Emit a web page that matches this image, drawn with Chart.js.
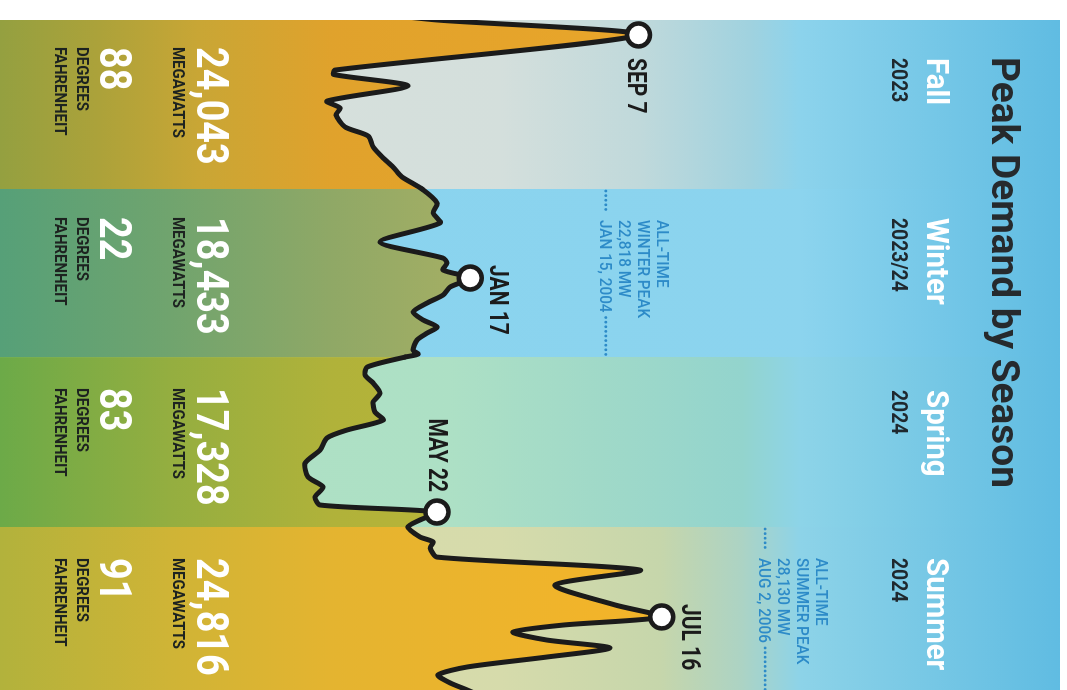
<!DOCTYPE html>
<html>
<head>
<meta charset="utf-8">
<title>Peak Demand by Season</title>
<script src="https://cdn.jsdelivr.net/npm/chart.js@4.4.0/dist/chart.umd.min.js"></script>
<style>
  html, body { margin: 0; padding: 0; background: #fff; overflow: hidden; }
  body { width: 1067px; height: 690px; position: relative; }
  /* the poster is laid out upright and turned a quarter turn clockwise */
  #poster { position: absolute; left: 0; top: 0; width: 670px; height: 1060px;
    transform-origin: 0 0; transform: translate(1060px, 20px) rotate(90deg); }
  #poster canvas { display: block; }
</style>
</head>
<body>
<div id="poster"><canvas id="chart" width="670" height="1060"></canvas></div>
<script>
// days counted from Sep 1, 2023
const days = [-3.7, -0.5, 7.6, 26.6, 29, 35.2, 43.4, 47.2, 50.9, 57.4, 62.3, 68.3, 73.7, 79.1, 84.5, 91,
  98.6, 104, 109.4, 119.7, 128.4, 131.1, 134.9, 139.2, 144.1, 148.4, 152.7, 157.6, 161.9, 165.7, 169,
  172.8, 178.2, 180.4, 182, 187.4, 191.7, 196.1, 201.5, 206.3, 211.8, 216.1, 221.5, 225.8, 232.3, 239.4,
  246.9, 252.4, 257.8, 262.1, 265.9, 270.2, 274, 279.4, 282.1, 285.4, 290.3, 297.3, 305.4, 316.2, 322.7,
  327.1, 330.9, 335.2, 339.5, 344.4, 349.8, 354.1, 358.4, 362.2, 367.7];
const demandMW = [15430, 17330, 24043, 13930, 13880, 16360, 13660, 14100, 13960, 14260, 15030, 15200, 15500, 15860, 16160, 16830,
  17330, 17200, 17430, 15430, 17530, 17660, 17530, 18433, 17760, 17530, 17000, 16530, 16860, 17330, 17000,
  16660, 16530, 16700, 16260, 15000, 14930, 15200, 15430, 15200, 15260, 15530, 14330, 13660, 13430, 12930,
  13030, 13530, 13260, 13430, 17328, 16760, 16360, 16760, 17200, 17100, 17330, 24090, 21260, 23260, 24816,
  21530, 19860, 20990, 23090, 20990, 18330, 17360, 17760, 18330, 19100];

const seasons = ['Fall', 'Winter', 'Spring', 'Summer'];
const seasonYears = ['2023', '2023/24', '2024', '2024'];
const seasonStartDay = [0, 91, 182, 274, 366];
const peakDays = [7.6, 139.2, 265.9, 322.7];
const peakMW = [24043, 18433, 17328, 24816];
const peakDates = ['SEP 7', 'JAN 17', 'MAY 22', 'JUL 16'];
const peakTempF = [88, 22, 83, 91];

const recordSeason = [1, 3];
const recordNames = ['WINTER PEAK', 'SUMMER PEAK'];
const recordMW = [22818, 28130];
const recordDates = ['JAN 15, 2004', 'AUG 2, 2006'];

// colours, top of poster (0) to bottom (1)
const lightStops = [
  [[0, '#60bce2'], [0.245, '#8cd3ec'], [0.292, '#a0d2df'], [0.396, '#c0d9db'], [0.528, '#d4dfdc'], [1, '#d9e1dc']],
  [[0, '#60bce2'], [0.245, '#8cd4ee'], [1, '#88d3ef']],
  [[0, '#60bce2'], [0.245, '#8dd4e8'], [0.3, '#93d4cd'], [0.434, '#a0d9c8'], [0.575, '#ade0c5'], [1, '#b0e1c4']],
  [[0, '#60bce2'], [0.245, '#8dd3e8'], [0.3, '#acd3c4'], [0.377, '#c6d6ab'], [0.528, '#d6dbab'], [1, '#d9dcab']]
];
const strongStops = [
  [[0.434, '#e8a52a'], [0.686, '#e0a22c'], [0.811, '#c9a635'], [0.906, '#aca23a'], [1, '#94a040']],
  [[0.575, '#a2ae64'], [0.689, '#8fa866'], [0.84, '#70a46e'], [1, '#56a078']],
  [[0.575, '#b8b438'], [0.689, '#b0b23a'], [0.84, '#94ae40'], [1, '#6caa48']],
  [[0.434, '#f2b42a'], [0.689, '#e4b430'], [0.84, '#cfb436'], [1, '#b2b23c']]
];

const headerU = [38, 198, 370, 538];
const statU = [27, 197, 368, 538];
const labelPlace = ['after', 'above', 'before', 'above'];

function seasonOf(day) {
  let s = 0;
  for (let i = 1; i < 4; i++) if (day >= seasonStartDay[i]) s = i;
  return s;
}

function vGrad(ctx, area, stops) {
  const g = ctx.createLinearGradient(0, area.top, 0, area.bottom);
  stops.forEach(([p, c]) => g.addColorStop(p, c));
  return g;
}

// one gradient object per season, so the fill only splits at season edges
let strongGrads = null;
function strongFill(chart, s) {
  const area = chart.chartArea;
  if (!area) return 'rgba(0,0,0,0)';
  if (!strongGrads) strongGrads = strongStops.map(st => vGrad(chart.ctx, area, st));
  return strongGrads[s];
}

function drawText(ctx, s, u, v, o) {
  ctx.save();
  ctx.font = (o.weight || 'bold') + ' ' + o.size + 'px Roboto, "Noto Sans", sans-serif';
  ctx.fillStyle = o.color;
  ctx.textBaseline = 'alphabetic';
  ctx.textAlign = 'left';
  const w = ctx.measureText(s).width;
  const sx = o.width ? o.width / w : (o.sx || 1);
  const x = o.align === 'right' ? u - w * sx : u;
  ctx.translate(x, v);
  ctx.scale(sx, 1);
  ctx.fillText(s, 0, 0);
  ctx.restore();
  return w * sx;
}

const styles = {
  title: { size: 39, color: '#262a2d', width: 431 },
  season: { size: 31, color: '#ffffff', sx: 0.95 },
  year: { size: 22, color: '#1f282e', sx: 0.88 },
  big: { size: 45, color: '#ffffff', sx: 0.84 },
  unit: { size: 17, color: '#1d2320', sx: 0.88 },
  note: { size: 17, weight: '500', color: '#2d8bc8', sx: 0.9 },
  dot: { size: 25, color: '#1b1b1b', sx: 0.84 }
};

const backdrop = {
  id: 'backdrop',
  beforeDatasetsDraw(chart) {
    const { ctx, chartArea: a, scales: { x } } = chart;
    ctx.save();
    for (let s = 0; s < 4; s++) {
      const u0 = s === 0 ? a.left : Math.round(x.getPixelForValue(seasonStartDay[s]));
      const u1 = s === 3 ? a.right : Math.round(x.getPixelForValue(seasonStartDay[s + 1]));
      ctx.fillStyle = vGrad(ctx, a, lightStops[s]);
      ctx.fillRect(u0, a.top, u1 - u0, a.bottom - a.top);
    }
    ctx.restore();
  },
  afterDraw(chart) {
    const { ctx, scales: { x, y } } = chart;

    drawText(ctx, 'Peak Demand by Season', 37, 68, styles.title);
    seasons.forEach((name, i) => {
      drawText(ctx, name, headerU[i], 133, styles.season);
      drawText(ctx, seasonYears[i], headerU[i], 168, styles.year);
      drawText(ctx, peakMW[i].toLocaleString('en-US'), statU[i], 863, styles.big);
      drawText(ctx, 'MEGAWATTS', statU[i], 887, styles.unit);
      drawText(ctx, String(peakTempF[i]), statU[i], 960, styles.big);
      drawText(ctx, 'DEGREES', statU[i], 983, styles.unit);
      drawText(ctx, 'FAHRENHEIT', statU[i], 1005, styles.unit);
    });

    // all-time records: dotted level line with its note
    recordMW.forEach((mw, r) => {
      const s = recordSeason[r];
      const b0 = x.getPixelForValue(seasonStartDay[s]);
      const b1 = x.getPixelForValue(seasonStartDay[s + 1]);
      const lv = y.getPixelForValue(mw);
      const u0 = b0 + 31;
      const lines = ['ALL-TIME', recordNames[r], mw.toLocaleString('en-US') + ' MW'];
      lines.forEach((t, k) => drawText(ctx, t, u0, lv + 2 - 19 * (3 - k), styles.note));
      const w = drawText(ctx, recordDates[r], u0, lv + 2, styles.note);
      ctx.save();
      ctx.strokeStyle = styles.note.color;
      ctx.lineWidth = 2.8;
      ctx.lineCap = 'round';
      ctx.setLineDash([0.01, 4.6]);
      ctx.beginPath();
      ctx.moveTo(b0 + 2, lv - 4); ctx.lineTo(u0 - 7, lv - 4);
      ctx.moveTo(u0 + w + 5, lv - 4); ctx.lineTo(b1 - 2, lv - 4);
      ctx.stroke();
      ctx.restore();
    });

    // date labels beside the seasonal peaks
    const pts = chart.getDatasetMeta(0).data;
    pts.forEach((p, i) => {
      const place = labelPlace[i];
      if (place === 'after') drawText(ctx, peakDates[i], p.x + 23, p.y + 10, styles.dot);
      else if (place === 'before') drawText(ctx, peakDates[i], p.x - 20, p.y + 8, Object.assign({ align: 'right' }, styles.dot));
      else drawText(ctx, peakDates[i], p.x - 13, p.y - 20, styles.dot);
    });
  }
};

new Chart(document.getElementById('chart'), {
  type: 'line',
  data: {
    datasets: [{
      data: peakDays.map((d, i) => ({ x: d, y: peakMW[i] })),
      showLine: false,
      pointRadius: 11.5,
      pointBorderWidth: 4.5,
      pointBackgroundColor: '#ffffff',
      pointBorderColor: '#1b1b1b',
      clip: false
    }, {
      data: days.map((d, i) => ({ x: d, y: demandMW[i] })),
      borderColor: '#1b1b1b',
      borderWidth: 5,
      borderJoinStyle: 'round',
      borderCapStyle: 'round',
      tension: 0.25,
      pointRadius: 0,
      fill: 'start',
      segment: {
        backgroundColor: c => strongFill(c.chart, seasonOf(days[c.p0DataIndex]))
      }
    }]
  },
  options: {
    responsive: false,
    animation: false,
    devicePixelRatio: 1,
    events: [],
    layout: { padding: 0, autoPadding: false },
    plugins: { legend: { display: false }, tooltip: { enabled: false }, title: { display: false } },
    scales: {
      x: { type: 'linear', min: -0.5, max: 362.25, display: false },
      y: { type: 'linear', min: 2760, max: 38093, display: false }
    }
  },
  plugins: [backdrop]
});
</script>
</body>
</html>
